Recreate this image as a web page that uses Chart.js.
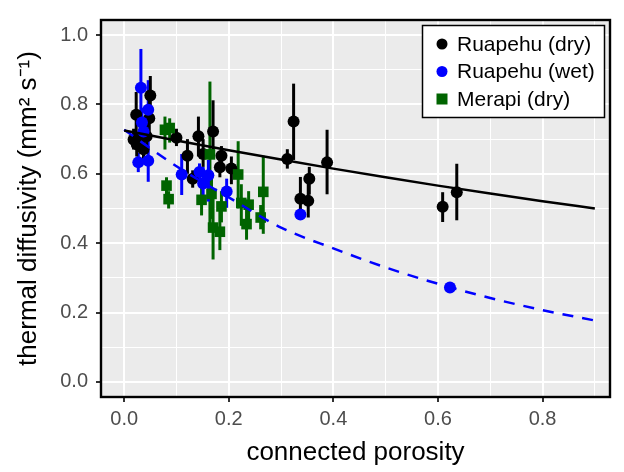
<!DOCTYPE html>
<html>
<head>
<meta charset="utf-8">
<script src="https://cdn.jsdelivr.net/npm/chart.js@4"></script>
<style>
  html, body { margin: 0; padding: 0; background: #fff; }
</style>
</head>
<body>
<canvas id="diffChart" width="624" height="472"></canvas>
<script>
// Ruapehu (dry)
const dryPorosity = [0.023, 0.050, 0.048, 0.018, 0.031, 0.043, 0.024, 0.037, 0.100, 0.121, 0.131, 0.142, 0.151, 0.170, 0.186, 0.183, 0.205, 0.312, 0.324, 0.337, 0.352, 0.354, 0.388, 0.609, 0.636];
const dryDiff     = [0.770, 0.826, 0.760, 0.699, 0.699, 0.708, 0.685, 0.671, 0.704, 0.652, 0.586, 0.708, 0.657, 0.722, 0.652, 0.619, 0.615, 0.643, 0.751, 0.528, 0.522, 0.586, 0.633, 0.505, 0.547];
const dryLow      = [0.700, 0.760, 0.700, 0.670, 0.660, 0.670, 0.650, 0.630, 0.680, 0.600, 0.560, 0.650, 0.620, 0.660, 0.620, 0.590, 0.570, 0.615, 0.640, 0.474, 0.474, 0.540, 0.541, 0.461, 0.466];
const dryHigh     = [0.836, 0.882, 0.820, 0.730, 0.740, 0.750, 0.720, 0.710, 0.730, 0.700, 0.610, 0.765, 0.700, 0.812, 0.680, 0.650, 0.650, 0.671, 0.860, 0.591, 0.580, 0.620, 0.727, 0.547, 0.629];

// Ruapehu (wet)
const wetPorosity = [0.032, 0.046, 0.034, 0.037, 0.027, 0.046, 0.110, 0.144, 0.151, 0.161, 0.196, 0.337, 0.623];
const wetDiff     = [0.848, 0.785, 0.748, 0.722, 0.633, 0.638, 0.598, 0.605, 0.572, 0.596, 0.549, 0.483, 0.272];
const wetLow      = [0.735, 0.700, 0.700, 0.680, 0.605, 0.577, 0.539, 0.580, 0.520, 0.520, 0.502, 0.470, 0.260];
const wetHigh     = [0.960, 0.870, 0.790, 0.760, 0.661, 0.700, 0.657, 0.630, 0.620, 0.640, 0.586, 0.500, 0.280];

// Merapi (dry)
const merPorosity = [0.078, 0.087, 0.081, 0.085, 0.164, 0.148, 0.167, 0.170, 0.183, 0.186, 0.218, 0.224, 0.238, 0.234, 0.266, 0.261];
const merDiff     = [0.727, 0.732, 0.566, 0.527, 0.656, 0.525, 0.542, 0.445, 0.433, 0.506, 0.598, 0.516, 0.511, 0.455, 0.548, 0.474];
const merLow      = [0.670, 0.690, 0.530, 0.500, 0.450, 0.480, 0.470, 0.353, 0.380, 0.460, 0.500, 0.450, 0.460, 0.410, 0.427, 0.440];
const merHigh     = [0.765, 0.760, 0.590, 0.550, 0.866, 0.570, 0.600, 0.530, 0.500, 0.550, 0.694, 0.570, 0.550, 0.510, 0.652, 0.510];

// fitted curves
const fitPorosity = [0, 0.1, 0.2, 0.3, 0.4, 0.5, 0.6, 0.7, 0.8, 0.9];
const fitDry      = [0.725, 0.696, 0.668, 0.641, 0.615, 0.590, 0.566, 0.543, 0.521, 0.500];
const fitWet      = [0.727, 0.622, 0.532, 0.445, 0.385, 0.330, 0.283, 0.242, 0.207, 0.177];

const legendLabels = ['Ruapehu (dry)', 'Ruapehu (wet)', 'Merapi (dry)'];
const groupColors = ['#000000', '#0000FF', '#006400'];

const fontFamily = '"Liberation Sans", Arial, Helvetica, sans-serif';

function toPoints(xs, ys) {
    return xs.map((x, i) => ({ x: x, y: ys[i] }));
}

function isMajor(v) {
    return Math.round(v * 10) % 2 === 0;
}

// grey panel behind everything
const panelBackground = {
    id: 'panelBackground',
    beforeDraw(chart) {
        const { ctx, chartArea: a } = chart;
        ctx.save();
        ctx.fillStyle = '#EBEBEB';
        ctx.fillRect(a.left, a.top, a.right - a.left, a.bottom - a.top);
        ctx.restore();
    }
};

// vertical error bars from the low/high arrays
const errorBars = {
    id: 'errorBars',
    beforeDatasetsDraw(chart) {
        const { ctx, scales: { x, y } } = chart;
        ctx.save();
        ctx.lineWidth = 3;
        chart.data.datasets.forEach(ds => {
            if (!ds.errLow) return;
            ctx.strokeStyle = ds.backgroundColor;
            ds.data.forEach((p, i) => {
                const px = x.getPixelForValue(p.x);
                ctx.beginPath();
                ctx.moveTo(px, y.getPixelForValue(ds.errLow[i]));
                ctx.lineTo(px, y.getPixelForValue(ds.errHigh[i]));
                ctx.stroke();
            });
        });
        ctx.restore();
    }
};

// black panel border and the boxed legend
const panelFrame = {
    id: 'panelFrame',
    afterDatasetsDraw(chart) {
        const { ctx, chartArea: a } = chart;
        ctx.save();
        ctx.strokeStyle = '#000';
        ctx.lineWidth = 2.4;
        ctx.strokeRect(a.left, a.top, a.right - a.left, a.bottom - a.top);

        // legend
        ctx.fillStyle = '#fff';
        ctx.fillRect(422.5, 25.5, 182, 92);
        ctx.lineWidth = 1.5;
        ctx.strokeRect(422.5, 25.5, 182, 92);
        ctx.font = '21px ' + fontFamily;
        ctx.textBaseline = 'middle';
        legendLabels.forEach((label, i) => {
            const cy = 44 + i * 27.5;
            ctx.fillStyle = groupColors[i];
            if (i < 2) {
                ctx.beginPath();
                ctx.arc(442, cy, 5.5, 0, Math.PI * 2);
                ctx.fill();
            } else {
                ctx.fillRect(436.5, cy - 5.5, 11, 11);
            }
            ctx.fillStyle = '#000';
            ctx.fillText(label, 457, cy + 1);
        });
        ctx.restore();
    }
};

const ctx = document.getElementById('diffChart').getContext('2d');

const chart = new Chart(ctx, {
    data: {
        datasets: [
            {
                type: 'line',
                label: 'fit dry',
                data: toPoints(fitPorosity, fitDry),
                borderColor: '#000',
                borderWidth: 2.5,
                pointRadius: 0,
                cubicInterpolationMode: 'monotone',
                order: 0
            },
            {
                type: 'line',
                label: 'fit wet',
                data: toPoints(fitPorosity, fitWet),
                borderColor: '#0000FF',
                borderWidth: 2.5,
                borderDash: [11, 9],
                pointRadius: 0,
                cubicInterpolationMode: 'monotone',
                order: 0
            },
            {
                type: 'scatter',
                label: legendLabels[2],
                data: toPoints(merPorosity, merDiff),
                errLow: merLow,
                errHigh: merHigh,
                backgroundColor: groupColors[2],
                borderColor: groupColors[2],
                pointStyle: 'rect',
                pointRadius: 7.5,
                borderWidth: 0,
                order: 1
            },
            {
                type: 'scatter',
                label: legendLabels[1],
                data: toPoints(wetPorosity, wetDiff),
                errLow: wetLow,
                errHigh: wetHigh,
                backgroundColor: groupColors[1],
                borderColor: groupColors[1],
                pointRadius: 6,
                borderWidth: 0,
                order: 2
            },
            {
                type: 'scatter',
                label: legendLabels[0],
                data: toPoints(dryPorosity, dryDiff),
                errLow: dryLow,
                errHigh: dryHigh,
                backgroundColor: groupColors[0],
                borderColor: groupColors[0],
                pointRadius: 6,
                borderWidth: 0,
                order: 3
            }
        ]
    },
    options: {
        responsive: false,
        animation: false,
        layout: {
            padding: { left: 0, right: 14, top: 11, bottom: 0 }
        },
        plugins: {
            legend: { display: false },
            tooltip: { enabled: false }
        },
        scales: {
            x: {
                type: 'linear',
                min: -0.0443,
                max: 0.929,
                afterFit: function(scale) { scale.height = 75; },
                border: { display: false },
                ticks: {
                    stepSize: 0.1,
                    includeBounds: false,
                    autoSkip: false,
                    maxRotation: 0,
                    padding: 5,
                    color: '#4D4D4D',
                    font: { family: fontFamily, size: 20 },
                    callback: function(value) {
                        return isMajor(value) ? value.toFixed(1) : '';
                    }
                },
                grid: {
                    color: '#FFFFFF',
                    lineWidth: c => isMajor(c.tick.value) ? 2 : 1,
                    tickColor: c => isMajor(c.tick.value) ? '#333333' : 'rgba(0,0,0,0)',
                    tickLength: 5,
                    tickWidth: 2
                },
                title: {
                    display: true,
                    text: 'connected porosity',
                    color: '#000',
                    font: { family: fontFamily, size: 26 },
                    padding: { top: 0, bottom: 4 }
                }
            },
            y: {
                type: 'linear',
                min: -0.0435,
                max: 1.0435,
                afterFit: function(scale) { scale.width = 101; },
                border: { display: false },
                ticks: {
                    stepSize: 0.1,
                    includeBounds: false,
                    autoSkip: false,
                    padding: 8,
                    color: '#4D4D4D',
                    font: { family: fontFamily, size: 20 },
                    callback: function(value) {
                        return isMajor(value) ? value.toFixed(1) : '';
                    }
                },
                grid: {
                    color: '#FFFFFF',
                    lineWidth: c => isMajor(c.tick.value) ? 2 : 1,
                    tickColor: c => isMajor(c.tick.value) ? '#333333' : 'rgba(0,0,0,0)',
                    tickLength: 5,
                    tickWidth: 2
                },
                title: {
                    display: true,
                    text: 'thermal diffusivity (mm² s⁻¹)',
                    color: '#000',
                    font: { family: fontFamily, size: 26 },
                    padding: { top: 13, bottom: 0 }
                }
            }
        }
    },
    plugins: [panelBackground, errorBars, panelFrame]
});
</script>
</body>
</html>
